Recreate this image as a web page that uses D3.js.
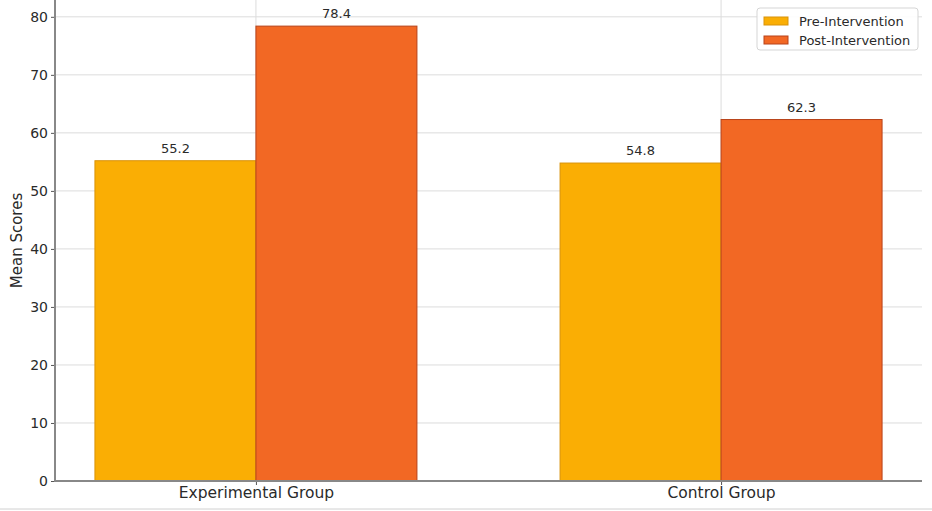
<!DOCTYPE html>
<html>
<head>
<meta charset="utf-8">
<script src="https://cdn.jsdelivr.net/npm/d3@7"></script>
<style>
  html, body { margin: 0; padding: 0; background: #fff; }
  svg { display: block; font-family: "DejaVu Sans", sans-serif; }
</style>
</head>
<body>
<svg id="chart" width="932" height="511"></svg>
<script>
const groups = ["Experimental Group", "Control Group"];
const seriesNames = ["Pre-Intervention", "Post-Intervention"];
const preValues = [55.2, 54.8];
const postValues = [78.4, 62.3];
const yTicks = [0, 10, 20, 30, 40, 50, 60, 70, 80];
const colors = ["#FAAE04", "#F26824"];
const edgeColors = ["#D9930A", "#B8431A"];

(function () {
const svg = d3.select("#chart");
const W = 932, H = 511;
const pLeft = 55, pRight = 922, pBottom = 481, pTop = 0;
const textColor = "#2a2a2a";

const y = d3.scaleLinear().domain([0, 82.9]).range([pBottom, pTop]);
const x = d3.scalePoint().domain(groups).range([pLeft, pRight]).padding(0.432);
const barW = 161;
const xs = d3.scaleBand().domain(seriesNames).range([-barW, barW]).padding(0);

// horizontal grid
svg.append("g").selectAll("line").data(yTicks).join("line")
  .attr("x1", pLeft).attr("x2", pRight)
  .attr("y1", d => y(d)).attr("y2", d => y(d))
  .attr("stroke", "#dcdcdc").attr("stroke-width", 1);
// vertical grid
svg.append("g").selectAll("line").data(groups).join("line")
  .attr("x1", d => x(d)).attr("x2", d => x(d))
  .attr("y1", pTop).attr("y2", pBottom)
  .attr("stroke", "#dcdcdc").attr("stroke-width", 1);

const data = groups.map((g, i) => ({ group: g, vals: [preValues[i], postValues[i]] }));

const gBars = svg.append("g");
data.forEach(d => {
  d.vals.forEach((v, si) => {
    const s = seriesNames[si];
    gBars.append("rect")
      .attr("x", x(d.group) + xs(s))
      .attr("y", y(v))
      .attr("width", xs.bandwidth())
      .attr("height", y(0) - y(v))
      .attr("fill", colors[si])
      .attr("stroke", edgeColors[si])
      .attr("stroke-width", 1);
    gBars.append("text")
      .attr("x", x(d.group) + xs(s) + xs.bandwidth() / 2)
      .attr("y", y(v) - 8)
      .attr("text-anchor", "middle")
      .attr("font-size", 13)
      .attr("fill", textColor)
      .text(v.toFixed(1));
  });
});

// y axis
const yAxis = d3.axisLeft(y).tickValues(yTicks).tickSize(4).tickPadding(3);
const gy = svg.append("g").attr("transform", `translate(${pLeft},0)`).call(yAxis);
gy.select(".domain").remove();
gy.selectAll(".tick line").attr("stroke", "#555");
gy.selectAll(".tick text").attr("font-size", 14).attr("fill", textColor).attr("font-family", "DejaVu Sans, sans-serif");
svg.append("line").attr("x1", pLeft).attr("x2", pLeft).attr("y1", pTop).attr("y2", pBottom + 1)
  .attr("stroke", "#888").attr("stroke-width", 2);

// x axis
const xAxis = d3.axisBottom(x).tickSize(4).tickPadding(2);
const gx = svg.append("g").attr("transform", `translate(0,${pBottom})`).call(xAxis);
gx.select(".domain").remove();
gx.selectAll(".tick line").attr("stroke", "#555");
gx.selectAll(".tick text").attr("font-size", 15.5).attr("fill", textColor).attr("font-family", "DejaVu Sans, sans-serif");
svg.append("line").attr("x1", pLeft - 1).attr("x2", pRight).attr("y1", pBottom).attr("y2", pBottom)
  .attr("stroke", "#888").attr("stroke-width", 2);

// y label
svg.append("text")
  .attr("transform", `translate(22,${(pTop + pBottom) / 2}) rotate(-90)`)
  .attr("text-anchor", "middle")
  .attr("font-size", 15).attr("fill", textColor)
  .text("Mean Scores");

// bottom border
svg.append("line").attr("x1", 0).attr("x2", W).attr("y1", 509).attr("y2", 509)
  .attr("stroke", "#d0d0d0").attr("stroke-width", 1);

// legend
const lg = svg.append("g").attr("transform", "translate(757,8)");
lg.append("rect").attr("width", 161).attr("height", 42).attr("rx", 3)
  .attr("fill", "#fff").attr("fill-opacity", 0.9).attr("stroke", "#d5d5d5");
seriesNames.forEach((s, i) => {
  lg.append("rect").attr("x", 7).attr("y", 9 + i * 19).attr("width", 24).attr("height", 8)
    .attr("fill", colors[i]).attr("stroke", edgeColors[i]);
  lg.append("text").attr("x", 42).attr("y", 17.5 + i * 19)
    .attr("font-size", 13).attr("fill", textColor).text(s);
});
})();
</script>
</body>
</html>
